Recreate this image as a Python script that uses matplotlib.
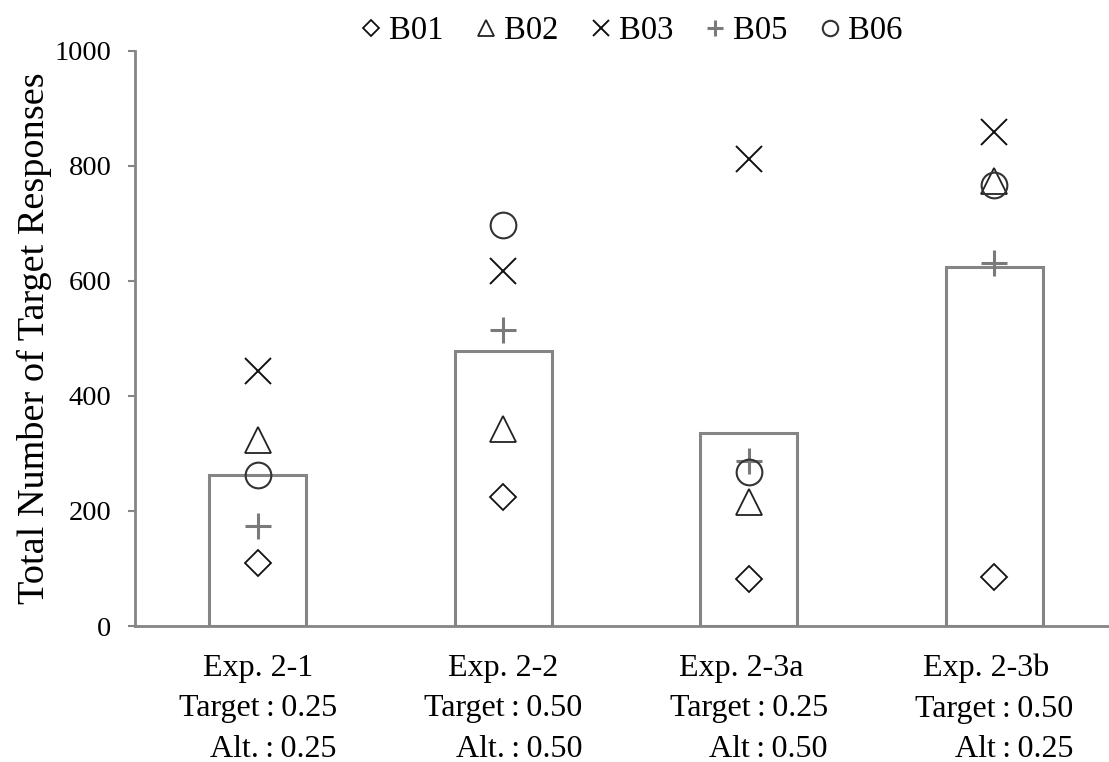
import matplotlib
matplotlib.use("Agg")
import matplotlib.pyplot as plt
import numpy as np

# ---- data ----
experiments = ["Exp. 2-1", "Exp. 2-2", "Exp. 2-3a", "Exp. 2-3b"]
target_lines = ["Target\u2009:\u20090.25", "Target\u2009:\u20090.50", "Target\u2009:\u20090.25", "Target\u2009:\u20090.50"]
alt_lines = ["Alt.\u2009:\u20090.25", "Alt.\u2009:\u20090.50", "Alt\u2009:\u20090.50", "Alt\u2009:\u20090.25"]
mean_values = [263, 478, 335, 625]
B01 = [110, 224, 81, 85]
B02 = [324, 342, 215, 774]
B03 = [443, 618, 812, 859]
B05 = [174, 514, 287, 632]
B06 = [263, 697, 267, 767]
y_ticks = [0, 200, 400, 600, 800, 1000]

plt.rcParams['font.family'] = ['Liberation Serif', 'DejaVu Serif']

fig = plt.figure(figsize=(11.09, 7.62), dpi=100)
ax = fig.add_axes([135/1109, 1-626/762, 1-135/1109, (626-51)/762])

x = np.arange(len(experiments))
grey = '#858585'
ax.bar(x, mean_values, width=0.395, facecolor='white', edgecolor=grey, linewidth=2.2, zorder=1)

series = [
    ("B01", B01, dict(marker='D', markersize=13, markeredgecolor='#111111', markeredgewidth=1.3)),
    ("B02", B02, dict(marker='^', markersize=18.5, markeredgecolor='#222222', markeredgewidth=1.3)),
    ("B03", B03, dict(marker='x', markersize=19, markeredgecolor='#111111', markeredgewidth=1.4)),
    ("B05", B05, dict(marker='+', markersize=19, markeredgecolor='#7a7a7a', markeredgewidth=2.2)),
    ("B06", B06, dict(marker='o', markersize=18.5, markeredgecolor='#333333', markeredgewidth=1.5)),
]
for name, vals, kw in series:
    ax.plot(x, vals, linestyle='none', markerfacecolor='none', label=name, zorder=3, **kw)

ax.set_xlim(-0.5, -0.5 + (1109-135)/245.5)
ax.set_ylim(0, 1000)
ax.set_yticks(y_ticks)
ax.set_yticklabels([str(v) for v in y_ticks], fontsize=20.5)
ax.tick_params(axis='y', direction='out', length=5, width=1.5, color=grey, pad=12)
ax.set_xticks(x)
labels = [f"{e}   \n{t}\n{a}" for e, t, a in zip(experiments, target_lines, alt_lines)]
ax.set_xticklabels(labels, fontsize=23, linespacing=1.52)
for t in ax.get_xticklabels():
    t.set_multialignment('right')
ax.tick_params(axis='x', length=0, pad=20)

for s in ['top', 'right']:
    ax.spines[s].set_visible(False)
for s in ['left', 'bottom']:
    ax.spines[s].set_color(grey)
    ax.spines[s].set_linewidth(2.0)

ax.set_ylabel("Total Number of Target Responses", fontsize=27.5, labelpad=2)

fig.legend(loc='center', bbox_to_anchor=(632/1109, 1-31/762), ncol=5, frameon=False,
           fontsize=23.5, markerscale=0.6, handlelength=0.6, handletextpad=0.25,
           columnspacing=1.0, borderpad=0)

fig.savefig("out.png", dpi=100)
